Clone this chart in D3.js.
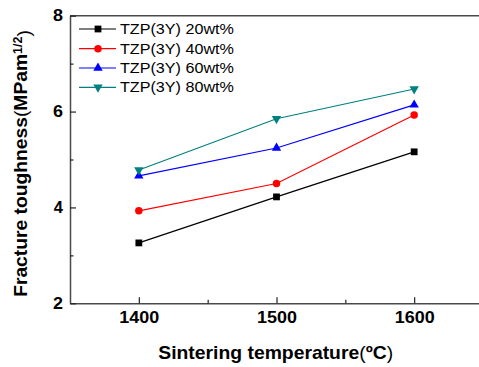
<!DOCTYPE html>
<html>
<head>
<meta charset="utf-8">
<script src="https://cdn.jsdelivr.net/npm/d3@7"></script>
<style>
  html, body { margin: 0; padding: 0; background: #fff; }
  svg { display: block; }
  text { font-family: "Liberation Sans", Arial, sans-serif; }
</style>
</head>
<body>
<svg id="chart" width="479" height="367"></svg>
<script>
// Sintering temperatures (°C)
const temperatures = [1400, 1500, 1600];

// Fracture toughness (MPa·m^1/2) for each TZP(3Y) content
const series20 = [3.26, 4.22, 5.16];
const series40 = [3.93, 4.50, 5.93];
const series60 = [4.66, 5.24, 6.14];
const series80 = [4.78, 5.85, 6.47];

const seriesNames = ["TZP(3Y) 20wt%", "TZP(3Y) 40wt%", "TZP(3Y) 60wt%", "TZP(3Y) 80wt%"];

const xMajorTicks = [1400, 1500, 1600];
const xMinorTicks = [1450, 1550];
const yMajorTicks = [2, 4, 6, 8];
const yMinorTicks = [3, 5, 7];

const seriesStyle = [
  { values: series20, color: "#000000", symbol: d3.symbolSquare,   size: 46, rotate: 0 },
  { values: series40, color: "#ff0000", symbol: d3.symbolCircle,   size: 44, rotate: 0 },
  { values: series60, color: "#0000ff", symbol: d3.symbolTriangle, size: 38, rotate: 0 },
  { values: series80, color: "#008080", symbol: d3.symbolTriangle, size: 38, rotate: 180 }
];

const svg = d3.select("#chart");
const plot = { left: 70, right: 483, top: 15.7, bottom: 303.3 };

const x = d3.scaleLinear().domain([1350, 1650]).range([plot.left, plot.right]);
const y = d3.scaleLinear().domain([2, 8]).range([plot.bottom, plot.top]);

const axisColor = "#4a4a4a";

// Stretch a text node along its own baseline so it spans a given length
function fitText(node, target, tx, ty, rot) {
  const w = node.getBBox().width;
  const k = target / w;
  d3.select(node).attr("transform",
    `translate(${tx},${ty})` + (rot ? ` rotate(${rot})` : "") + ` scale(${k},1)`);
}

// Frame: top and right borders
svg.append("line")
  .attr("x1", plot.left).attr("x2", plot.right)
  .attr("y1", plot.top).attr("y2", plot.top)
  .attr("stroke", axisColor).attr("stroke-width", 1.5);
svg.append("line")
  .attr("x1", plot.right).attr("x2", plot.right)
  .attr("y1", plot.top).attr("y2", plot.bottom)
  .attr("stroke", axisColor).attr("stroke-width", 1.5);

// Bottom axis
const xAxis = svg.append("g")
  .attr("transform", `translate(0,${plot.bottom})`)
  .call(d3.axisBottom(x).tickValues(xMajorTicks).tickSizeInner(-6).tickSizeOuter(0).tickPadding(8).tickFormat(d3.format("d")));
svg.append("g")
  .attr("transform", `translate(0,${plot.bottom})`)
  .call(d3.axisBottom(x).tickValues(xMinorTicks).tickSizeInner(-3.5).tickSizeOuter(0).tickFormat(""))
  .call(g => g.select(".domain").remove());

// Left axis
const yAxis = svg.append("g")
  .attr("transform", `translate(${plot.left},0)`)
  .call(d3.axisLeft(y).tickValues(yMajorTicks).tickSizeInner(-6).tickSizeOuter(0).tickPadding(7).tickFormat(d3.format("d")));
svg.append("g")
  .attr("transform", `translate(${plot.left},0)`)
  .call(d3.axisLeft(y).tickValues(yMinorTicks).tickSizeInner(-3.5).tickSizeOuter(0).tickFormat(""))
  .call(g => g.select(".domain").remove());

svg.selectAll(".domain").attr("stroke", axisColor).attr("stroke-width", 1.5);
svg.selectAll(".tick line").attr("stroke", "#222").attr("stroke-width", 1.2);
svg.selectAll(".tick text")
  .attr("fill", "#000")
  .style("font-size", "16.5px")
  .style("font-weight", "bold");

// widen tick labels to the original proportions
xAxis.selectAll(".tick text").each(function () {
  const t = d3.select(this);
  const yy = +t.attr("y");
  t.attr("y", null);
  fitText(this, 40, 0, yy, 0);
});
yAxis.selectAll(".tick text").each(function () {
  const t = d3.select(this);
  const xx = +t.attr("x");
  t.attr("x", null);
  fitText(this, 10, xx, 0, 0);
});

// Series lines and markers
const line = d3.line().x((d, i) => x(temperatures[i])).y(d => y(d));

seriesStyle.forEach(s => {
  svg.append("path")
    .datum(s.values)
    .attr("d", line)
    .attr("fill", "none")
    .attr("stroke", s.color)
    .attr("stroke-width", 1.2);
  svg.append("g").selectAll("path")
    .data(s.values)
    .join("path")
    .attr("d", d3.symbol().type(s.symbol).size(s.size))
    .attr("transform", (d, i) => `translate(${x(temperatures[i])},${y(d)}) rotate(${s.rotate})`)
    .attr("fill", s.color);
});

// Legend
const legendRows = [29, 48.7, 68, 87.3];
seriesStyle.forEach((s, i) => {
  const g = svg.append("g");
  const ly = legendRows[i];
  g.append("line")
    .attr("x1", 79).attr("x2", 116).attr("y1", ly).attr("y2", ly)
    .attr("stroke", s.color).attr("stroke-width", 1.2);
  g.append("path")
    .attr("d", d3.symbol().type(s.symbol).size(s.size))
    .attr("transform", `translate(98,${ly}) rotate(${s.rotate})`)
    .attr("fill", s.color);
  const t = g.append("text")
    .attr("dy", "0.36em")
    .style("font-size", "14px")
    .attr("fill", "#000")
    .text(seriesNames[i]);
  fitText(t.node(), 114, 120, ly, 0);
});

// X axis title
const xt = svg.append("text")
  .attr("text-anchor", "middle")
  .style("font-size", "17.5px")
  .style("font-weight", "bold")
  .attr("fill", "#000");
xt.append("tspan").text("Sintering temperature");
xt.append("tspan").style("font-weight", "normal").text("(");
xt.append("tspan").text("ºC");
xt.append("tspan").style("font-weight", "normal").text(")");
fitText(xt.node(), 235, 275.7, 359, 0);

// Y axis title
const yt = svg.append("text")
  .attr("text-anchor", "middle")
  .style("font-size", "18.5px")
  .style("font-weight", "bold")
  .attr("fill", "#000");
yt.append("tspan").text("Fracture toughness");
yt.append("tspan").style("font-weight", "normal").text("(");
yt.append("tspan").text("MPam");
yt.append("tspan").attr("dy", "-0.45em").style("font-size", "12px").text("1/2");
yt.append("tspan").attr("dy", "0.45em").style("font-weight", "normal").text(")");
fitText(yt.node(), 267, 27, 163.5, -90);
</script>
</body>
</html>
